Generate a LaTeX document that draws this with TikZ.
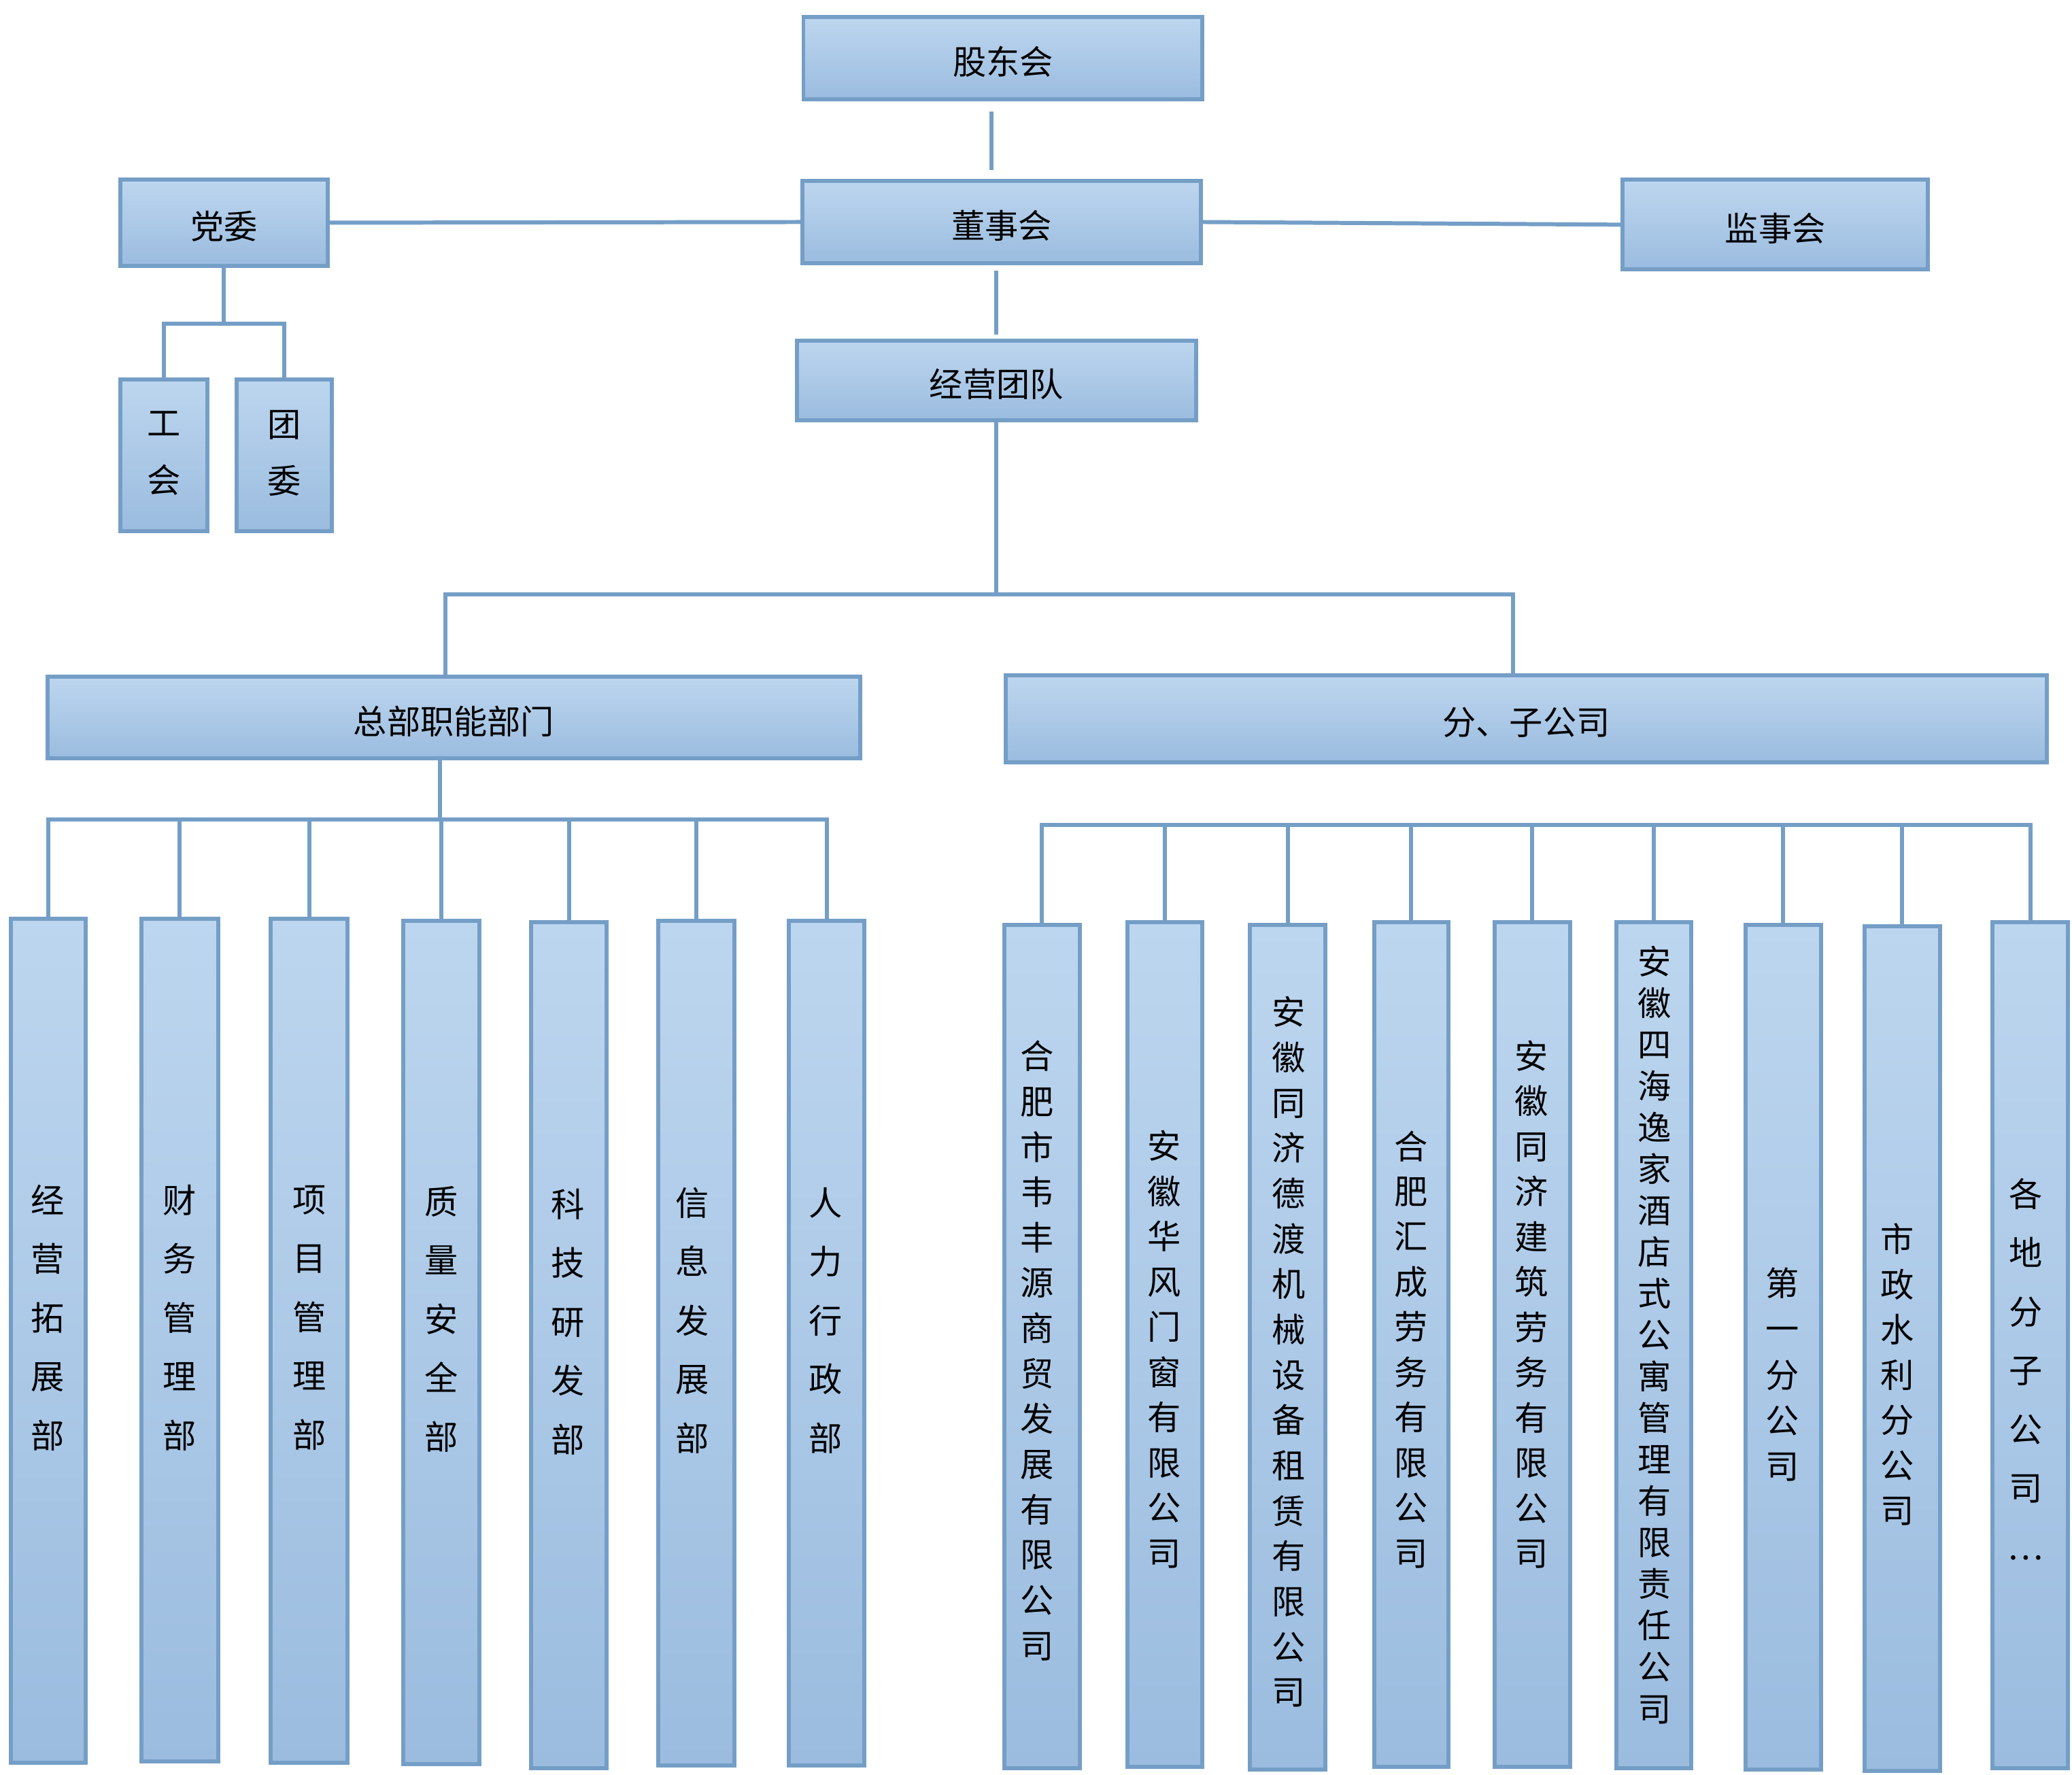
\documentclass[tikz,border=0pt]{standalone}
\usepackage{fontspec}
\setmainfont{Noto Sans CJK SC}
\usetikzlibrary{fit}
\definecolor{edge}{RGB}{116,158,198}
\definecolor{topfill}{RGB}{189,214,239}
\definecolor{botfill}{RGB}{155,188,223}
\tikzset{
unit/.style={draw=edge, line width=1.7pt, top color=topfill, bottom color=botfill, inner sep=0pt},
every label/.style={inner sep=0pt, yshift=-0.05cm, font=\fontsize{14pt}{17pt}\selectfont},
vtext/.style={align=center, inner sep=0pt, font=\fontsize{14pt}{#1}\selectfont},
link/.style={draw=edge, line width=1.7pt, line cap=rect}
}
\begin{document}
\begin{tikzpicture}[x=0.01943cm, y=-0.01943cm]
\useasboundingbox (0,0) rectangle (1568,1343);
% top levels
\node[unit, fit={(608,13) (910,75)}, label=center:股东会] (gdh) {};
\node[unit, fit={(607,137) (909,199)}, label=center:董事会] (dsh) {};
\node[unit, fit={(91,136) (248,201)}, label=center:党委] (dw) {};
\node[unit, fit={(1228,136) (1459,204)}, label=center:监事会] (jsh) {};
\node[unit, fit={(603,258) (905,318)}, label=center:经营团队] (jy) {};
\node[unit, fit={(91,287) (157,402)}] (gh) {};
\node[unit, fit={(179,287) (251,402)}] (tw) {};
\node[vtext=23.8pt] (ght) at (124,343) {工\\会};
\node[vtext=23.8pt] (twt) at (215,343) {团\\委};
\node[unit, fit={(36,512) (651,574)}, label=center:总部职能部门] (zb) {};
\node[unit, fit={(761,511) (1549,577)}, label=center:分、子公司] (fz) {};
% departments
\node[unit, fit={(8,695) (65,1334)}] (c1) {};
\node[unit, fit={(107,695) (165,1333)}] (c2) {};
\node[unit, fit={(205,695) (263,1334)}] (c3) {};
\node[unit, fit={(305,697) (363,1335)}] (c4) {};
\node[unit, fit={(402,698) (459,1338)}] (c5) {};
\node[unit, fit={(498,697) (556,1336)}] (c6) {};
\node[unit, fit={(597,697) (654,1336)}] (c7) {};
\node[vtext=24.6pt] (c1t) at (36,997) {经\\营\\拓\\展\\部};
\node[vtext=24.6pt] (c2t) at (136,997) {财\\务\\管\\理\\部};
\node[vtext=24.6pt] (c3t) at (234,997) {项\\目\\管\\理\\部};
\node[vtext=24.6pt] (c4t) at (334,998) {质\\量\\安\\全\\部};
\node[vtext=24.6pt] (c5t) at (430,1000) {科\\技\\研\\发\\部};
\node[vtext=24.6pt] (c6t) at (524,999) {信\\息\\发\\展\\部};
\node[vtext=24.6pt] (c7t) at (625,999) {人\\力\\行\\政\\部};
% companies
\node[unit, fit={(760,700) (817,1338)}] (s1) {};
\node[unit, fit={(853,698) (910,1337)}] (s2) {};
\node[unit, fit={(946,700) (1003,1339)}] (s3) {};
\node[unit, fit={(1040,698) (1096,1337)}] (s4) {};
\node[unit, fit={(1131,698) (1188,1337)}] (s5) {};
\node[unit, fit={(1223,698) (1280,1338)}] (s6) {};
\node[unit, fit={(1321,700) (1378,1339)}] (s7) {};
\node[unit, fit={(1411,701) (1468,1340)}] (s8) {};
\node[unit, fit={(1508,698) (1565,1338)}] (s9) {};
\node[vtext=18.96pt] (s1t) at (785,1022) {合\\肥\\市\\韦\\丰\\源\\商\\贸\\发\\展\\有\\限\\公\\司};
\node[vtext=18.9pt] (s2t) at (881,1021) {安\\徽\\华\\风\\门\\窗\\有\\限\\公\\司};
\node[vtext=18.96pt] (s3t) at (975,1023) {安\\徽\\同\\济\\德\\渡\\机\\械\\设\\备\\租\\赁\\有\\限\\公\\司};
\node[vtext=18.9pt] (s4t) at (1068,1021) {合\\肥\\汇\\成\\劳\\务\\有\\限\\公\\司};
\node[vtext=18.9pt] (s5t) at (1159,987) {安\\徽\\同\\济\\建\\筑\\劳\\务\\有\\限\\公\\司};
\node[vtext=17.36pt] (s6t) at (1252,1010) {安\\徽\\四\\海\\逸\\家\\酒\\店\\式\\公\\寓\\管\\理\\有\\限\\责\\任\\公\\司};
\node[vtext=19.07pt] (s7t) at (1349,1040) {第\\一\\分\\公\\司};
\node[vtext=18.9pt] (s8t) at (1436,1040) {市\\政\\水\\利\\分\\公\\司};
\node[vtext=24.6pt] (s9t) at (1533,1036) {各\\地\\分\\子\\公\\司\\…};
% connectors
\draw[link, line cap=butt, shorten <=0.15cm, shorten >=0.13cm] ([xshift=-0.17cm]gdh.south) -- ([xshift=-0.17cm]gdh.south |- dsh.north);
\draw[link] (dw.east) -- (dsh.west);
\draw[link] (dsh.east) -- (jsh.west);
\draw[link, line cap=butt, shorten <=0.08cm, shorten >=0.06cm] (jy.north |- dsh.south) -- (jy.north);
\coordinate (pb) at (169,245);
\draw[link] (dw.south) -- (dw.south |- pb);
\draw[link] (gh.north) |- (pb) -| (tw.north);
\coordinate (mbl) at (337,450);
\coordinate (mbr) at (1145,450);
\draw[link] (jy.south) -- (jy.south |- mbl);
\draw[link] (zb.north -| mbl) |- (mbr) -- (mbr |- fz.north);
\coordinate (hb) at (333,620);
\draw[link] (zb.south -| hb) -- (hb);
\draw[link] (c1.north |- hb) -- (c7.north |- hb);
\foreach \n in {1,...,7} \draw[link] (c\n.north |- hb) -- (c\n.north);
\coordinate (sb) at (792,624);
\draw[link] (s1.north |- sb) -- (s9.north |- sb);
\foreach \n in {1,...,9} \draw[link] (s\n.north |- sb) -- (s\n.north);
\end{tikzpicture}
\end{document}
